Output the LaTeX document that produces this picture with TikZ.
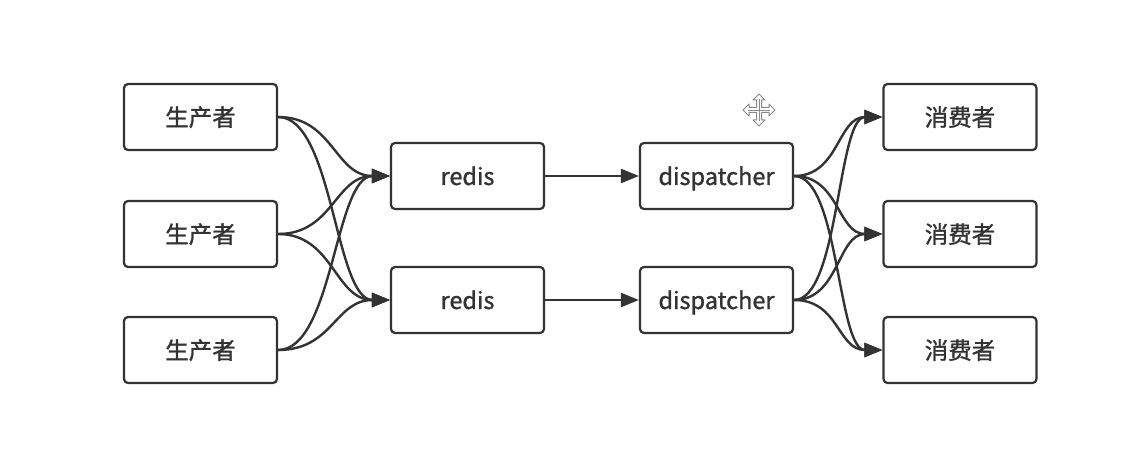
\documentclass[tikz,border=0pt]{standalone}
\usepackage{fontspec}
\setmainfont{Noto Sans CJK SC}
\newfontfamily\lblfont{Noto Sans CJK SC}[FakeBold=1.2]
\usetikzlibrary{arrows.meta}
\definecolor{ink}{HTML}{333333}
\definecolor{iconc}{HTML}{8A8A8A}
\tikzset{
  box/.style={draw=ink, line width=2.2pt, rounded corners=4pt, fill=white,
    minimum width=153pt, minimum height=66pt, inner sep=0pt,
    text height=18pt, text depth=0pt,
    text=ink, font=\lblfont\fontsize{23.5pt}{26pt}\selectfont},
  conn/.style={draw=ink, line width=2.4pt, -{Triangle[length=18pt,width=14pt]}}
}
\begin{document}
\begin{tikzpicture}[x=1pt,y=-1pt]
\useasboundingbox[fill=white] (0,0) rectangle (1140,457);
\node[box] (p1) at (200.5,117) {生产者};
\node[box] (p2) at (200.5,234) {生产者};
\node[box] (p3) at (200.5,350) {生产者};
\node[box] (r1) at (467.5,176) {redis};
\node[box] (r2) at (467.5,300) {redis};
\node[box] (d1) at (716.5,176) {dispatcher};
\node[box] (d2) at (716.5,300) {dispatcher};
\node[box] (c1) at (960,117) {消费者};
\node[box] (c2) at (960,234) {消费者};
\node[box] (c3) at (960,350) {消费者};
% producers -> redis
\foreach \p in {p1,p2,p3}{
  \foreach \r in {r1,r2}{
    \draw[conn] (\p.east) .. controls +(55,0) and +(-55,0) .. (\r.west);
  }
}
\draw[conn] (r1) -- (d1);
\draw[conn] (r2) -- (d2);
% dispatcher -> consumers
\foreach \d in {d1,d2}{
  \foreach \c in {c1,c2,c3}{
    \draw[conn] (\d.east) .. controls +(45,0) and +(-45,0) .. (\c.west);
  }
}
% move cursor icon
\begin{scope}[shift={(759,110)}]
\draw[iconc, line width=1pt, fill=white, line join=round]
 (0,-16) -- (6,-10) -- (2.5,-10) -- (2.5,-2.5) -- (10,-2.5) -- (10,-6) -- (16,0) -- (10,6) -- (10,2.5) -- (2.5,2.5) -- (2.5,10) -- (6,10) -- (0,16) -- (-6,10) -- (-2.5,10) -- (-2.5,2.5) -- (-10,2.5) -- (-10,6) -- (-16,0) -- (-10,-6) -- (-10,-2.5) -- (-2.5,-2.5) -- (-2.5,-10) -- (-6,-10) -- cycle;
\draw[iconc, line width=0.8pt] (0,-11) -- (0,11) (-11,0) -- (11,0);
\end{scope}
\end{tikzpicture}
\end{document}
